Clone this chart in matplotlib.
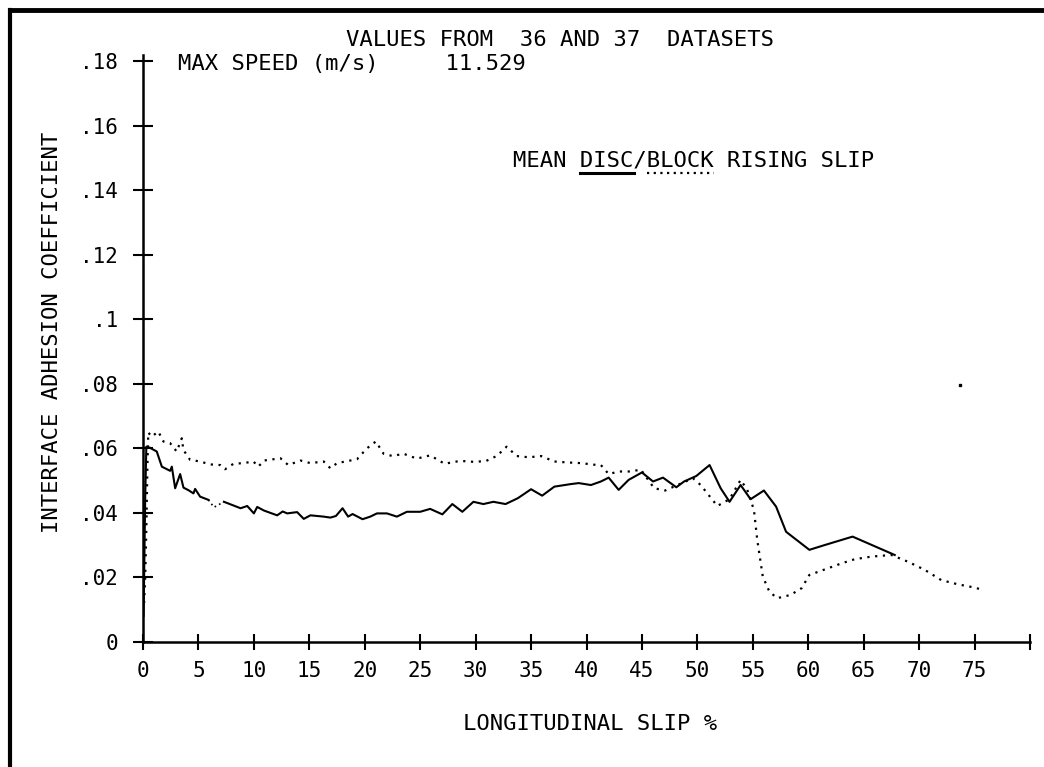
import matplotlib
matplotlib.use("Agg")
import matplotlib.pyplot as plt
from matplotlib.lines import Line2D
import numpy as np

plt.rcParams['font.family'] = ['DejaVu Sans Mono', 'DejaVu Sans']

# DISC (solid) - mean adhesion vs slip
disc_slip = [0.05, 0.12, 0.2, 0.3, 0.6, 1.24, 1.7, 2.45, 2.6, 2.9, 3.35, 3.65, 4.1, 4.55, 4.7,
             5.15, 5.9, 6.4, 7.3, 8.8, 9.4, 10.0, 10.3, 10.9, 12.1, 12.6, 13.0, 13.9, 14.5,
             15.1, 15.7, 16.3, 16.9, 17.4, 18.0, 18.5, 18.9, 19.8, 20.5, 21.1, 22.0, 22.9,
             23.8, 25.0, 25.9, 27.0, 27.9, 28.8, 29.8, 30.7, 31.6, 32.7, 33.8, 35.0, 36.0,
             37.1, 38.6, 39.3, 40.4, 41.3, 42.0, 42.9, 43.8, 45.0, 46.0, 46.9, 48.1, 48.8,
             49.9, 51.1, 52.1, 52.9, 53.9, 54.8, 56.0, 57.1, 58.0, 60.1, 61.5, 64.0, 67.8]
disc_mu = [0.008, 0.025, 0.045, 0.0605, 0.0602, 0.059, 0.0543, 0.053, 0.0543, 0.0476, 0.052,
           0.0478, 0.047, 0.046, 0.0474, 0.045, 0.044, 0.0417, 0.0434, 0.0414, 0.0421, 0.0398,
           0.0418, 0.0407, 0.0392, 0.0404, 0.0398, 0.0402, 0.0381, 0.0392, 0.039, 0.0388,
           0.0385, 0.039, 0.0414, 0.0388, 0.0396, 0.038, 0.0388, 0.0398, 0.0398, 0.0388,
           0.0403, 0.0403, 0.0412, 0.0395, 0.0427, 0.0403, 0.0434, 0.0427, 0.0434, 0.0427,
           0.0445, 0.0473, 0.0453, 0.0481, 0.0489, 0.0492, 0.0486, 0.0497, 0.0509, 0.0471,
           0.0502, 0.0525, 0.0497, 0.0509, 0.0479, 0.0497, 0.0514, 0.0548, 0.0476, 0.0434,
           0.0486, 0.0442, 0.0469, 0.0419, 0.0341, 0.0285, 0.03, 0.0326, 0.0269]

# BLOCK (dotted)
block_slip = [0.1, 0.2, 0.3, 0.4, 0.48, 0.78, 1.38, 1.84, 2.44, 3.04, 3.5, 3.64, 4.25, 5.15,
              6.05, 6.96, 7.4, 8.16, 9.06, 9.96, 10.4, 10.9, 12.4, 13.1, 14.2, 15.1, 16.3,
              16.9, 17.5, 19.3, 20.2, 21.0, 21.7, 22.5, 23.5, 24.7, 25.9, 27.2, 28.6, 29.8,
              30.9, 31.9, 32.8, 33.7, 34.8, 35.9, 37.1, 38.3, 39.5, 40.7, 41.3, 42.0, 42.9,
              44.0, 44.9, 46.1, 47.1, 48.2, 49.6, 50.3, 51.8, 52.9, 53.9, 54.5, 55.1, 55.4,
              55.9, 56.5, 57.2, 58.4, 59.4, 60.1, 61.8, 63.0, 64.2, 65.7, 67.5, 69.0, 70.5,
              72.0, 73.5, 75.0, 75.8]
block_mu = [0.012, 0.02, 0.035, 0.055, 0.0649, 0.0636, 0.0652, 0.0621, 0.0616, 0.059, 0.0631,
            0.0595, 0.0564, 0.0559, 0.055, 0.0548, 0.0535, 0.0552, 0.0554, 0.0559, 0.0543,
            0.0562, 0.0569, 0.0548, 0.0562, 0.0554, 0.0559, 0.0538, 0.0554, 0.0566, 0.060,
            0.0621, 0.0583, 0.0576, 0.0583, 0.0568, 0.0578, 0.0552, 0.0561, 0.0558, 0.056,
            0.0576, 0.0605, 0.0576, 0.0572, 0.0576, 0.0559, 0.0556, 0.0554, 0.0549, 0.0548,
            0.052, 0.0528, 0.0528, 0.0534, 0.0476, 0.0469, 0.0486, 0.0507, 0.0486, 0.0421,
            0.0442, 0.0502, 0.0471, 0.0409, 0.0316, 0.0202, 0.0155, 0.0135, 0.0145, 0.0166,
            0.0207, 0.0228, 0.0243, 0.0256, 0.0264, 0.0269, 0.0248, 0.0223, 0.0191, 0.0178,
            0.0168, 0.016]

stray_pt = (73.7, 0.0797)

x_ticks = list(range(0, 85, 5))
x_labels = [str(t) for t in range(0, 80, 5)] + ['']
y_ticks = [0, 0.02, 0.04, 0.06, 0.08, 0.10, 0.12, 0.14, 0.16, 0.18]
y_labels = ['0', '.02', '.04', '.06', '.08', '.1', '.12', '.14', '.16', '.18']

W, H = 1044, 767
fig = plt.figure(figsize=(W / 100, H / 100), dpi=100)
ax = fig.add_axes([143 / W, 125.3 / H, (1030 - 143) / W, (641.7 - 55) / H])

dx = np.array(disc_slip)
dy = np.array(disc_mu)
gap = (dx >= 5.9) & (dx <= 7.3)
ax.plot(dx[dx <= 5.9], dy[dx <= 5.9], color='black', lw=1.5)
ax.plot(dx[gap], dy[gap], color='black', lw=1.2, linestyle=(0, (1, 2)))
ax.plot(dx[dx >= 7.3], dy[dx >= 7.3], color='black', lw=1.5)
ax.plot(block_slip, block_mu, color='black', lw=1.6, linestyle=(0, (1, 2.5)))
ax.plot([stray_pt[0]], [stray_pt[1]], 's', color='black', ms=1.8)

ax.set_xlim(0, 80)
ax.set_ylim(0, 0.182)
ax.set_xticks(x_ticks)
ax.set_xticklabels(x_labels)
ax.set_yticks(y_ticks)
ax.set_yticklabels(y_labels)
ax.tick_params(axis='both', direction='inout', width=1.5, labelsize=15, color='black')
ax.tick_params(axis='y', length=14, pad=11)
ax.tick_params(axis='x', length=12, pad=8)
for s in ['top', 'right']:
    ax.spines[s].set_visible(False)
for s in ['left', 'bottom']:
    ax.spines[s].set_linewidth(1.8)

fs = 16
fig.text(560 / W, 1 - 40 / H, 'VALUES FROM  36 AND 37  DATASETS', fontsize=fs,
         ha='center', va='center')
fig.text(178 / W, 1 - 64 / H, 'MAX SPEED (m/s)     11.529', fontsize=fs,
         ha='left', va='center')
legend_txt = fig.text(694 / W, 1 - 160 / H, 'MEAN DISC/BLOCK RISING SLIP', fontsize=fs,
                      ha='center', va='center')
fig.text(52 / W, 1 - 332 / H, 'INTERFACE ADHESION COEFFICIENT', fontsize=fs,
         rotation=90, ha='center', va='center')
fig.text(590 / W, 1 - 724 / H, 'LONGITUDINAL SLIP %', fontsize=fs,
         ha='center', va='center')

# underline the DISC / BLOCK words in the legend text
fig.canvas.draw()
bb = legend_txt.get_window_extent()
cw = bb.width / len(legend_txt.get_text())
uy = bb.y0 - 3
fig.add_artist(Line2D([bb.x0 + 5 * cw, bb.x0 + 9 * cw], [uy, uy], transform=None,
                      color='black', lw=2.2))
fig.add_artist(Line2D([bb.x0 + 10 * cw, bb.x0 + 15 * cw], [uy, uy], transform=None,
                      color='black', lw=1.6, linestyle=(0, (1, 2))))

# page border (left and top only)
fig.add_artist(Line2D([10 / W, 10 / W], [0, 1 - 9.5 / H], transform=fig.transFigure,
                      color='black', lw=3))
fig.add_artist(Line2D([10 / W, 1], [1 - 9.5 / H, 1 - 9.5 / H], transform=fig.transFigure,
                      color='black', lw=3.5))

fig.savefig('out.png', dpi=100)
